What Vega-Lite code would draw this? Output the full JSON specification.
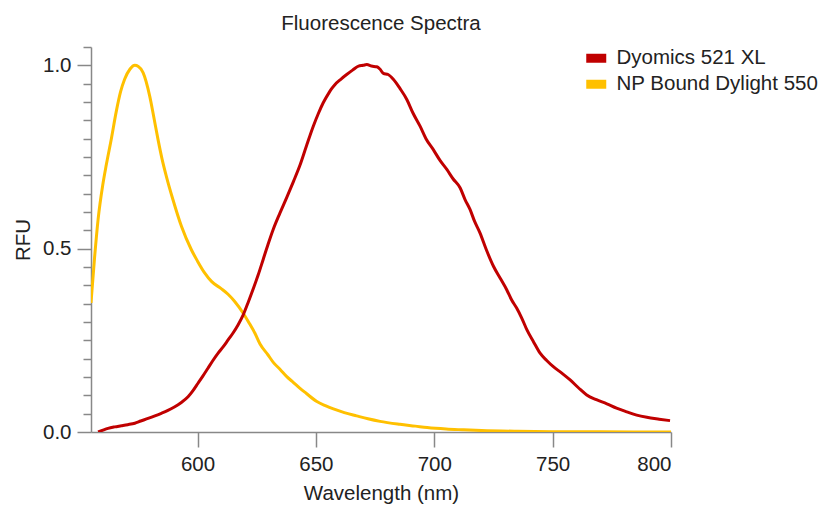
{
  "$schema": "https://vega.github.io/schema/vega-lite/v6.json",
  "width": 580,
  "height": 385,
  "autosize": "none",
  "padding": {"left": 91, "top": 47, "right": 147, "bottom": 79},
  "background": "white",
  "config": {
    "view": {"stroke": null},
    "font": "Liberation Sans"
  },
  "title": {
    "text": "Fluorescence Spectra",
    "fontSize": 20.5,
    "fontWeight": "normal",
    "color": "#222222",
    "font": "Liberation Sans",
    "anchor": "middle",
    "offset": 12
  },
  "data": {
    "values": [
      {"series": "NP Bound Dylight 550", "wavelength": 555, "rfu": 0.352},
      {"series": "NP Bound Dylight 550", "wavelength": 556.5, "rfu": 0.475},
      {"series": "NP Bound Dylight 550", "wavelength": 558, "rfu": 0.58},
      {"series": "NP Bound Dylight 550", "wavelength": 560, "rfu": 0.675},
      {"series": "NP Bound Dylight 550", "wavelength": 561.5, "rfu": 0.73},
      {"series": "NP Bound Dylight 550", "wavelength": 563.6, "rfu": 0.8},
      {"series": "NP Bound Dylight 550", "wavelength": 565.7, "rfu": 0.875},
      {"series": "NP Bound Dylight 550", "wavelength": 567.5, "rfu": 0.928},
      {"series": "NP Bound Dylight 550", "wavelength": 569.2, "rfu": 0.962},
      {"series": "NP Bound Dylight 550", "wavelength": 571.5, "rfu": 0.99},
      {"series": "NP Bound Dylight 550", "wavelength": 573.5, "rfu": 1.0},
      {"series": "NP Bound Dylight 550", "wavelength": 575, "rfu": 0.997},
      {"series": "NP Bound Dylight 550", "wavelength": 577, "rfu": 0.98},
      {"series": "NP Bound Dylight 550", "wavelength": 579.8, "rfu": 0.916},
      {"series": "NP Bound Dylight 550", "wavelength": 581.5, "rfu": 0.86},
      {"series": "NP Bound Dylight 550", "wavelength": 583.3, "rfu": 0.798},
      {"series": "NP Bound Dylight 550", "wavelength": 585, "rfu": 0.745},
      {"series": "NP Bound Dylight 550", "wavelength": 586.8, "rfu": 0.698},
      {"series": "NP Bound Dylight 550", "wavelength": 589.6, "rfu": 0.634},
      {"series": "NP Bound Dylight 550", "wavelength": 593.2, "rfu": 0.561},
      {"series": "NP Bound Dylight 550", "wavelength": 597.4, "rfu": 0.497},
      {"series": "NP Bound Dylight 550", "wavelength": 600, "rfu": 0.466},
      {"series": "NP Bound Dylight 550", "wavelength": 603, "rfu": 0.434},
      {"series": "NP Bound Dylight 550", "wavelength": 606, "rfu": 0.41},
      {"series": "NP Bound Dylight 550", "wavelength": 610, "rfu": 0.391},
      {"series": "NP Bound Dylight 550", "wavelength": 613, "rfu": 0.375},
      {"series": "NP Bound Dylight 550", "wavelength": 615.7, "rfu": 0.356},
      {"series": "NP Bound Dylight 550", "wavelength": 619.3, "rfu": 0.324},
      {"series": "NP Bound Dylight 550", "wavelength": 622, "rfu": 0.295},
      {"series": "NP Bound Dylight 550", "wavelength": 624.2, "rfu": 0.27},
      {"series": "NP Bound Dylight 550", "wavelength": 626.4, "rfu": 0.24},
      {"series": "NP Bound Dylight 550", "wavelength": 629.8, "rfu": 0.21},
      {"series": "NP Bound Dylight 550", "wavelength": 632, "rfu": 0.19},
      {"series": "NP Bound Dylight 550", "wavelength": 635, "rfu": 0.17},
      {"series": "NP Bound Dylight 550", "wavelength": 637.7, "rfu": 0.151},
      {"series": "NP Bound Dylight 550", "wavelength": 640, "rfu": 0.138},
      {"series": "NP Bound Dylight 550", "wavelength": 643.3, "rfu": 0.119},
      {"series": "NP Bound Dylight 550", "wavelength": 646, "rfu": 0.105},
      {"series": "NP Bound Dylight 550", "wavelength": 650.4, "rfu": 0.083},
      {"series": "NP Bound Dylight 550", "wavelength": 654, "rfu": 0.072},
      {"series": "NP Bound Dylight 550", "wavelength": 657.4, "rfu": 0.063},
      {"series": "NP Bound Dylight 550", "wavelength": 662, "rfu": 0.053},
      {"series": "NP Bound Dylight 550", "wavelength": 667.2, "rfu": 0.044},
      {"series": "NP Bound Dylight 550", "wavelength": 672, "rfu": 0.036},
      {"series": "NP Bound Dylight 550", "wavelength": 677.1, "rfu": 0.029},
      {"series": "NP Bound Dylight 550", "wavelength": 685.5, "rfu": 0.021},
      {"series": "NP Bound Dylight 550", "wavelength": 692, "rfu": 0.016},
      {"series": "NP Bound Dylight 550", "wavelength": 697, "rfu": 0.012},
      {"series": "NP Bound Dylight 550", "wavelength": 705, "rfu": 0.008},
      {"series": "NP Bound Dylight 550", "wavelength": 712, "rfu": 0.006},
      {"series": "NP Bound Dylight 550", "wavelength": 720, "rfu": 0.004},
      {"series": "NP Bound Dylight 550", "wavelength": 735, "rfu": 0.002},
      {"series": "NP Bound Dylight 550", "wavelength": 750, "rfu": 0.001},
      {"series": "NP Bound Dylight 550", "wavelength": 770, "rfu": 0.0005},
      {"series": "NP Bound Dylight 550", "wavelength": 800, "rfu": 0.0},
      {"series": "Dyomics 521 XL", "wavelength": 558, "rfu": 0.0},
      {"series": "Dyomics 521 XL", "wavelength": 560, "rfu": 0.005},
      {"series": "Dyomics 521 XL", "wavelength": 562.2, "rfu": 0.01},
      {"series": "Dyomics 521 XL", "wavelength": 565, "rfu": 0.014},
      {"series": "Dyomics 521 XL", "wavelength": 567.8, "rfu": 0.017},
      {"series": "Dyomics 521 XL", "wavelength": 570.5, "rfu": 0.02},
      {"series": "Dyomics 521 XL", "wavelength": 573.5, "rfu": 0.024},
      {"series": "Dyomics 521 XL", "wavelength": 576, "rfu": 0.03},
      {"series": "Dyomics 521 XL", "wavelength": 579.1, "rfu": 0.037},
      {"series": "Dyomics 521 XL", "wavelength": 582, "rfu": 0.044},
      {"series": "Dyomics 521 XL", "wavelength": 584.7, "rfu": 0.051},
      {"series": "Dyomics 521 XL", "wavelength": 587.5, "rfu": 0.059},
      {"series": "Dyomics 521 XL", "wavelength": 590.4, "rfu": 0.069},
      {"series": "Dyomics 521 XL", "wavelength": 593, "rfu": 0.08},
      {"series": "Dyomics 521 XL", "wavelength": 596, "rfu": 0.096},
      {"series": "Dyomics 521 XL", "wavelength": 598, "rfu": 0.112},
      {"series": "Dyomics 521 XL", "wavelength": 600.2, "rfu": 0.133},
      {"series": "Dyomics 521 XL", "wavelength": 602.3, "rfu": 0.153},
      {"series": "Dyomics 521 XL", "wavelength": 604.4, "rfu": 0.174},
      {"series": "Dyomics 521 XL", "wavelength": 606.5, "rfu": 0.195},
      {"series": "Dyomics 521 XL", "wavelength": 608.7, "rfu": 0.215},
      {"series": "Dyomics 521 XL", "wavelength": 610.8, "rfu": 0.232},
      {"series": "Dyomics 521 XL", "wavelength": 612.9, "rfu": 0.251},
      {"series": "Dyomics 521 XL", "wavelength": 615, "rfu": 0.27},
      {"series": "Dyomics 521 XL", "wavelength": 617.1, "rfu": 0.292},
      {"series": "Dyomics 521 XL", "wavelength": 619.2, "rfu": 0.318},
      {"series": "Dyomics 521 XL", "wavelength": 621.3, "rfu": 0.352},
      {"series": "Dyomics 521 XL", "wavelength": 623.5, "rfu": 0.39},
      {"series": "Dyomics 521 XL", "wavelength": 625.6, "rfu": 0.428},
      {"series": "Dyomics 521 XL", "wavelength": 627.7, "rfu": 0.47},
      {"series": "Dyomics 521 XL", "wavelength": 629.8, "rfu": 0.512},
      {"series": "Dyomics 521 XL", "wavelength": 632, "rfu": 0.553},
      {"series": "Dyomics 521 XL", "wavelength": 634.8, "rfu": 0.597},
      {"series": "Dyomics 521 XL", "wavelength": 637.7, "rfu": 0.64},
      {"series": "Dyomics 521 XL", "wavelength": 640.5, "rfu": 0.683},
      {"series": "Dyomics 521 XL", "wavelength": 643.3, "rfu": 0.728},
      {"series": "Dyomics 521 XL", "wavelength": 646, "rfu": 0.78},
      {"series": "Dyomics 521 XL", "wavelength": 648.9, "rfu": 0.834},
      {"series": "Dyomics 521 XL", "wavelength": 651, "rfu": 0.868},
      {"series": "Dyomics 521 XL", "wavelength": 653.1, "rfu": 0.898},
      {"series": "Dyomics 521 XL", "wavelength": 655.5, "rfu": 0.925},
      {"series": "Dyomics 521 XL", "wavelength": 656.5, "rfu": 0.935},
      {"series": "Dyomics 521 XL", "wavelength": 658.1, "rfu": 0.948},
      {"series": "Dyomics 521 XL", "wavelength": 660.5, "rfu": 0.962},
      {"series": "Dyomics 521 XL", "wavelength": 663, "rfu": 0.975},
      {"series": "Dyomics 521 XL", "wavelength": 665.5, "rfu": 0.987},
      {"series": "Dyomics 521 XL", "wavelength": 668, "rfu": 0.998},
      {"series": "Dyomics 521 XL", "wavelength": 670, "rfu": 1.0},
      {"series": "Dyomics 521 XL", "wavelength": 671.5, "rfu": 1.002},
      {"series": "Dyomics 521 XL", "wavelength": 673.5, "rfu": 0.998},
      {"series": "Dyomics 521 XL", "wavelength": 675.7, "rfu": 0.996},
      {"series": "Dyomics 521 XL", "wavelength": 677, "rfu": 0.99},
      {"series": "Dyomics 521 XL", "wavelength": 678.5, "rfu": 0.978},
      {"series": "Dyomics 521 XL", "wavelength": 680.5, "rfu": 0.975},
      {"series": "Dyomics 521 XL", "wavelength": 682.7, "rfu": 0.962},
      {"series": "Dyomics 521 XL", "wavelength": 685.5, "rfu": 0.937},
      {"series": "Dyomics 521 XL", "wavelength": 688.4, "rfu": 0.907},
      {"series": "Dyomics 521 XL", "wavelength": 691, "rfu": 0.87},
      {"series": "Dyomics 521 XL", "wavelength": 694, "rfu": 0.834},
      {"series": "Dyomics 521 XL", "wavelength": 696.5, "rfu": 0.8},
      {"series": "Dyomics 521 XL", "wavelength": 699.6, "rfu": 0.77},
      {"series": "Dyomics 521 XL", "wavelength": 702.5, "rfu": 0.74},
      {"series": "Dyomics 521 XL", "wavelength": 705.3, "rfu": 0.716},
      {"series": "Dyomics 521 XL", "wavelength": 708, "rfu": 0.69},
      {"series": "Dyomics 521 XL", "wavelength": 710.9, "rfu": 0.666},
      {"series": "Dyomics 521 XL", "wavelength": 713, "rfu": 0.634},
      {"series": "Dyomics 521 XL", "wavelength": 715.1, "rfu": 0.607},
      {"series": "Dyomics 521 XL", "wavelength": 717, "rfu": 0.575},
      {"series": "Dyomics 521 XL", "wavelength": 719.3, "rfu": 0.543},
      {"series": "Dyomics 521 XL", "wavelength": 722, "rfu": 0.497},
      {"series": "Dyomics 521 XL", "wavelength": 725, "rfu": 0.452},
      {"series": "Dyomics 521 XL", "wavelength": 727.8, "rfu": 0.42},
      {"series": "Dyomics 521 XL", "wavelength": 730.6, "rfu": 0.388},
      {"series": "Dyomics 521 XL", "wavelength": 732.7, "rfu": 0.36},
      {"series": "Dyomics 521 XL", "wavelength": 734.8, "rfu": 0.338},
      {"series": "Dyomics 521 XL", "wavelength": 737, "rfu": 0.31},
      {"series": "Dyomics 521 XL", "wavelength": 739.1, "rfu": 0.279},
      {"series": "Dyomics 521 XL", "wavelength": 742, "rfu": 0.245},
      {"series": "Dyomics 521 XL", "wavelength": 744.7, "rfu": 0.215},
      {"series": "Dyomics 521 XL", "wavelength": 747.5, "rfu": 0.195},
      {"series": "Dyomics 521 XL", "wavelength": 750.3, "rfu": 0.178},
      {"series": "Dyomics 521 XL", "wavelength": 754, "rfu": 0.16},
      {"series": "Dyomics 521 XL", "wavelength": 757.4, "rfu": 0.142},
      {"series": "Dyomics 521 XL", "wavelength": 761, "rfu": 0.12},
      {"series": "Dyomics 521 XL", "wavelength": 764.4, "rfu": 0.101},
      {"series": "Dyomics 521 XL", "wavelength": 768.5, "rfu": 0.088},
      {"series": "Dyomics 521 XL", "wavelength": 772.9, "rfu": 0.077},
      {"series": "Dyomics 521 XL", "wavelength": 777, "rfu": 0.065},
      {"series": "Dyomics 521 XL", "wavelength": 781.3, "rfu": 0.055},
      {"series": "Dyomics 521 XL", "wavelength": 785.5, "rfu": 0.046},
      {"series": "Dyomics 521 XL", "wavelength": 789.8, "rfu": 0.04},
      {"series": "Dyomics 521 XL", "wavelength": 795, "rfu": 0.035},
      {"series": "Dyomics 521 XL", "wavelength": 799.6, "rfu": 0.031}
    ]
  },
  "mark": {"type": "line", "strokeWidth": 3, "interpolate": "monotone", "clip": true},
  "encoding": {
    "x": {
      "field": "wavelength",
      "type": "quantitative",
      "scale": {"domain": [555, 800], "nice": false, "zero": false},
      "axis": {
        "title": "Wavelength (nm)",
        "values": [600, 650, 700, 750, 800],
        "grid": false,
        "domainColor": "#888888",
        "domainWidth": 1.5,
        "tickColor": "#888888",
        "tickWidth": 1.5,
        "tickSize": 15,
        "labelFontSize": 20.5,
        "labelColor": "#222222",
        "labelPadding": 7,
        "labelFont": "Liberation Sans",
        "titleFont": "Liberation Sans",
        "titleFontSize": 20.5,
        "titleFontWeight": "normal",
        "titleColor": "#222222",
        "titlePadding": 9
      }
    },
    "y": {
      "field": "rfu",
      "type": "quantitative",
      "scale": {"domain": [0, 1.05], "nice": false},
      "axis": {
        "title": "RFU",
        "values": [0, 0.05, 0.1, 0.15, 0.2, 0.25, 0.3, 0.35, 0.4, 0.45, 0.5, 0.55, 0.6, 0.65, 0.7, 0.75, 0.8, 0.85, 0.9, 0.95, 1, 1.05],
        "labelExpr": "(datum.value == 0 || datum.value == 0.5 || datum.value == 1) ? format(datum.value, '.1f') : ''",
        "grid": false,
        "domainColor": "#888888",
        "domainWidth": 1.5,
        "tickColor": "#888888",
        "tickWidth": 1.5,
        "tickSize": {"condition": {"test": "datum.value == 0 || datum.value == 0.5 || datum.value == 1", "value": 14}, "value": 8},
        "labelFontSize": 20.5,
        "labelColor": "#222222",
        "labelPadding": 6,
        "labelFont": "Liberation Sans",
        "titleFont": "Liberation Sans",
        "titleFontSize": 20.5,
        "titleFontWeight": "normal",
        "titleColor": "#222222",
        "titlePadding": 9
      }
    },
    "color": {
      "field": "series",
      "type": "nominal",
      "scale": {"domain": ["Dyomics 521 XL", "NP Bound Dylight 550"], "range": ["#c00000", "#ffc000"]},
      "legend": {
        "title": null,
        "orient": "none",
        "legendX": 495,
        "legendY": 1,
        "symbolType": "M-1,-0.45H1V0.45H-1Z",
        "symbolStrokeWidth": 0,
        "symbolSize": 400,
        "labelFontSize": 20.5,
        "labelColor": "#222222",
        "labelFont": "Liberation Sans",
        "labelOffset": 10,
        "rowPadding": 5,
        "labelLimit": 300,
        "encode": {
          "symbols": {"update": {"fill": {"scale": "color", "field": "value"}, "strokeWidth": {"value": 0}}}
        }
      }
    }
  }
}
